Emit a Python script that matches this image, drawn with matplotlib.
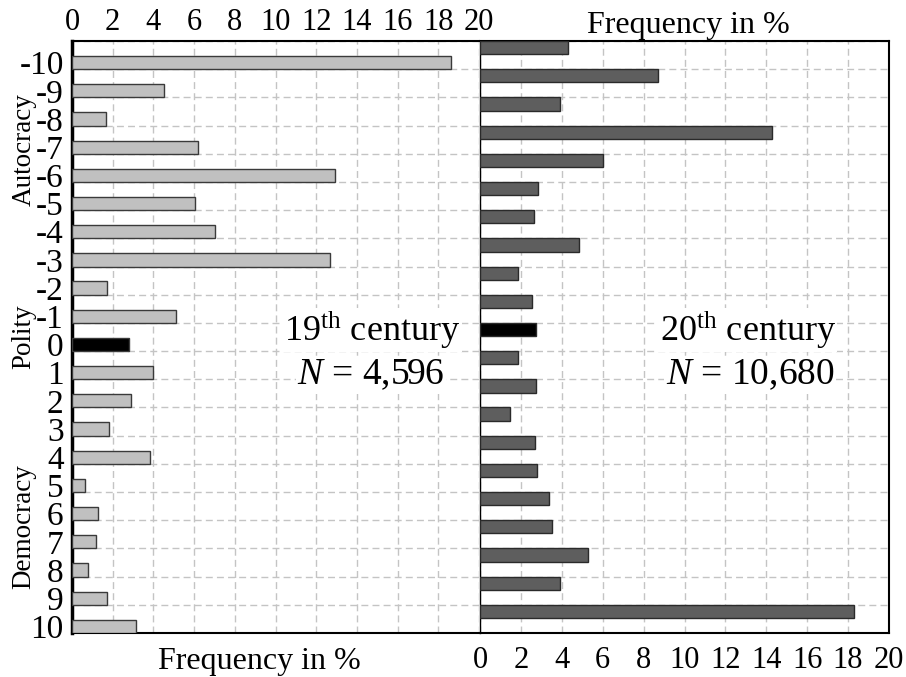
import matplotlib
matplotlib.use("Agg")
import matplotlib.pyplot as plt
import numpy as np

plt.rcParams['font.family'] = ['Liberation Serif', 'DejaVu Serif']
plt.rcParams['mathtext.fontset'] = 'custom'
plt.rcParams['mathtext.rm'] = 'Liberation Serif'
plt.rcParams['mathtext.it'] = 'Liberation Serif:italic'

polity = list(range(-10, 11))
freq_19th = [18.6, 4.5, 1.65, 6.2, 12.9, 6.05, 7.05, 12.7, 1.7, 5.1, 2.8,
             4.0, 2.9, 1.8, 3.85, 0.65, 1.3, 1.2, 0.8, 1.7, 3.15]
freq_20th = [4.3, 8.7, 3.9, 14.3, 6.0, 2.85, 2.65, 4.85, 1.85, 2.55, 2.75,
             1.85, 2.75, 1.45, 2.7, 2.8, 3.35, 3.5, 5.3, 3.9, 18.3]
xticks = list(range(0, 21, 2))

W, H = 906, 677
fig = plt.figure(figsize=(W / 100, H / 100), dpi=100)
ax1 = fig.add_axes([72 / W, (H - 633) / H, 407 / W, 592 / H])
ax2 = fig.add_axes([480 / W, (H - 633) / H, 409 / W, 592 / H])

h = 0.47
grid_kw = dict(color='#c4c4c4', linestyle=(0, (5, 3)), linewidth=1)

# left panel: bars sit above the gridline
y = np.array(polity)
cols1 = ['black' if p == 0 else '#c0c0c0' for p in polity]
ax1.barh(y + 0.5 - h / 2, freq_19th, height=h, color=cols1,
         edgecolor='#3a3a3a', linewidth=1, zorder=3)
# right panel: bars sit below the gridline
cols2 = ['black' if p == 0 else '#5e5e5e' for p in polity]
ax2.barh(y - 0.5 + h / 2, freq_20th, height=h, color=cols2,
         edgecolor='#2a2a2a', linewidth=1, zorder=3)

for ax in (ax1, ax2):
    ax.set_xlim(0, 20)
    ax.set_ylim(10.5, -10.5)
    ax.set_xticks(xticks)
    ax.set_yticks(np.arange(-10.5, 11, 1), minor=True)
    ax.grid(True, which='major', axis='x', **grid_kw)
    ax.grid(True, which='minor', axis='y', **grid_kw)
    ax.set_axisbelow(True)
    ax.tick_params(which='both', length=0)
    ax.tick_params(axis='x', labelsize=22)

ax1.set_yticks(y + 0.5 - h / 2)
ax1.set_yticklabels([str(p) for p in polity], fontsize=24)
ax1.tick_params(axis='y', pad=6)
ax1.tick_params(axis='x', pad=3)
ax1.xaxis.tick_top()
ax1.set_xticklabels([str(t) for t in xticks])
ax1.spines['left'].set_linewidth(2.5)
ax1.spines['right'].set_visible(False)
for s in ('top', 'bottom'):
    ax1.spines[s].set_linewidth(1.5)

ax2.set_yticks([])
ax2.set_xticklabels([str(t) for t in xticks])
ax2.tick_params(axis='x', pad=9)
for s in ('top', 'bottom', 'right'):
    ax2.spines[s].set_linewidth(1.5)
ax2.spines['left'].set_linewidth(1)

fig.text(259 / W, 1 - 662 / H, 'Frequency in %', fontsize=23,
         ha='center', va='center')
fig.text(688 / W, 1 - 25 / H, 'Frequency in %', fontsize=23,
         ha='center', va='center')

bbox = dict(facecolor='white', edgecolor='none', pad=1)
ax1.text(14.75, -0.25, r'19$^{\mathrm{th}}$ century', fontsize=26,
         ha='center', va='center', bbox=bbox, zorder=4)
ax1.text(14.7, 1.35, r'$N$ = 4,596', fontsize=27,
         ha='center', va='center', bbox=bbox, zorder=4)
ax2.text(13.1, -0.25, r'20$^{\mathrm{th}}$ century', fontsize=26,
         ha='center', va='center', bbox=bbox, zorder=4)
ax2.text(13.2, 1.35, r'$N$ = 10,680', fontsize=27,
         ha='center', va='center', bbox=bbox, zorder=4)

fig.text(24 / W, 1 - 150 / H, 'Autocracy', rotation=90, fontsize=19.5,
         ha='center', va='center')
fig.text(24 / W, 1 - 337 / H, 'Polity', rotation=90, fontsize=19.5,
         ha='center', va='center')
fig.text(24 / W, 1 - 527 / H, 'Democracy', rotation=90, fontsize=19.5,
         ha='center', va='center')

fig.savefig('out.png', dpi=100)
